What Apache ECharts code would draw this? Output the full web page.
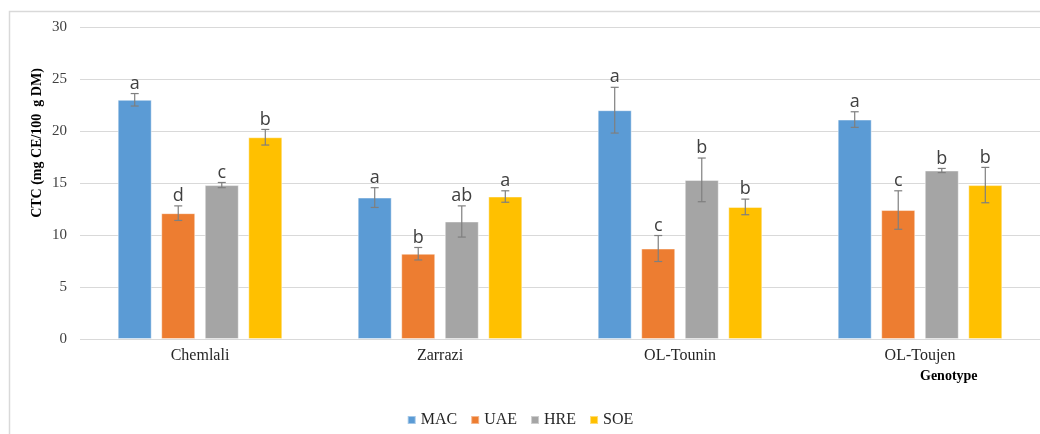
<!DOCTYPE html>
<html>
<head>
<meta charset="utf-8">
<script src="https://cdn.jsdelivr.net/npm/echarts@6/dist/echarts.min.js"></script>
<style>
  html, body { margin: 0; padding: 0; background: #fff; }
  #chart { width: 1040px; height: 434px; }
</style>
</head>
<body>
<div id="chart"></div>
<script>
// Genotypes on the x axis
const categories = ['Chemlali', 'Zarrazi', 'OL-Tounin', 'OL-Toujen'];
// Extraction methods
const seriesNames = ['MAC', 'UAE', 'HRE', 'SOE'];
const colors = ['#5B9BD5', '#ED7D31', '#A5A5A5', '#FFC000'];

// CTC means (mg CE/100 g DM)
const macValues = [23.0, 13.6, 22.0, 21.1];
const uaeValues = [12.1, 8.2, 8.7, 12.4];
const hreValues = [14.8, 11.3, 15.3, 16.2];
const soeValues = [19.4, 13.7, 12.7, 14.8];

// Standard deviations
const macErrors = [0.6, 0.95, 2.2, 0.75];
const uaeErrors = [0.7, 0.6, 1.25, 1.85];
const hreErrors = [0.25, 1.5, 2.1, 0.2];
const soeErrors = [0.75, 0.55, 0.75, 1.7];

// Significance letters
const macLetters = ['a', 'a', 'a', 'a'];
const uaeLetters = ['d', 'b', 'c', 'c'];
const hreLetters = ['c', 'ab', 'b', 'b'];
const soeLetters = ['b', 'a', 'b', 'b'];

// Y axis ticks
const yTicks = [0, 5, 10, 15, 20, 25, 30];

const allValues = [macValues, uaeValues, hreValues, soeValues];
const allErrors = [macErrors, uaeErrors, hreErrors, soeErrors];
const allLetters = [macLetters, uaeLetters, hreLetters, soeLetters];

const BAR_WIDTH_RATIO = 0.1417; // bar width as a share of the category band
const BAR_GAP_RATIO = 0.28;     // gap between bars as a share of bar width
const serif = '"Liberation Serif", "Times New Roman", serif';

const chart = echarts.init(document.getElementById('chart'));

const series = [];
seriesNames.forEach((name, i) => {
  series.push({
    name: name,
    type: 'bar',
    data: allValues[i],
    barWidth: (BAR_WIDTH_RATIO * 100) + '%',
    barGap: (BAR_GAP_RATIO * 100) + '%',
    itemStyle: { color: colors[i], borderColor: 'rgba(255,255,255,0.45)', borderWidth: 1 },
    emphasis: { disabled: true },
    z: 2
  });
});

// Error bars and letters drawn on top of each bar
seriesNames.forEach((name, i) => {
  series.push({
    name: name + ' error',
    type: 'custom',
    z: 5,
    silent: true,
    data: categories.map((c, k) => [k, allValues[i][k], allErrors[i][k]]),
    renderItem: function (params, api) {
      const k = api.value(0);
      const v = api.value(1);
      const e = api.value(2);
      const letter = allLetters[i][k];
      const band = api.size([1, 0])[0];
      const bw = band * BAR_WIDTH_RATIO;
      const gap = bw * BAR_GAP_RATIO;
      const total = 4 * bw + 3 * gap;
      const center = api.coord([k, v]);
      const x = center[0] - total / 2 + i * (bw + gap) + bw / 2;
      const yHi = api.coord([k, v + e])[1];
      const yLo = api.coord([k, v - e])[1];
      const cap = 4;
      const style = { stroke: '#7f7f7f', lineWidth: 1.2 };
      return {
        type: 'group',
        children: [
          { type: 'line', shape: { x1: x, y1: yHi, x2: x, y2: yLo }, style: style },
          { type: 'line', shape: { x1: x - cap, y1: yHi, x2: x + cap, y2: yHi }, style: style },
          { type: 'line', shape: { x1: x - cap, y1: yLo, x2: x + cap, y2: yLo }, style: style },
          {
            type: 'text',
            style: {
              text: letter,
              x: x,
              y: yHi - 1,
              align: 'center',
              verticalAlign: 'bottom',
              font: '18px "Open Sans", "Liberation Sans", sans-serif',
              fill: '#404040'
            }
          }
        ]
      };
    }
  });
});

chart.setOption({
  animation: false,
  backgroundColor: '#fff',
  color: colors,
  grid: { left: 80, right: 0, top: 27, bottom: 95 },
  legend: {
    data: seriesNames,
    bottom: 1,
    left: 'center',
    itemWidth: 8,
    itemHeight: 8,
    itemGap: 13,
    icon: 'rect',
    textStyle: { fontFamily: serif, fontSize: 16, color: '#262626' }
  },
  xAxis: {
    type: 'category',
    data: categories,
    axisLine: { show: false },
    axisTick: { show: false },
    axisLabel: { fontFamily: serif, fontSize: 16, color: '#262626', margin: 9 }
  },
  yAxis: {
    type: 'value',
    min: yTicks[0],
    max: yTicks[yTicks.length - 1],
    interval: yTicks[1] - yTicks[0],
    axisLine: { show: false },
    axisTick: { show: false },
    axisLabel: { fontFamily: serif, fontSize: 15, color: '#404040', margin: 13 },
    splitLine: { lineStyle: { color: '#d9d9d9', width: 1 } }
  },
  graphic: [
    {
      type: 'rect',
      shape: { x: 9.5, y: 11.5, width: 1040, height: 430 },
      style: { fill: 'none', stroke: '#d9d9d9', lineWidth: 1.5 },
      silent: true,
      z: -1
    },
    {
      type: 'text',
      x: 37,
      y: 143,
      rotation: Math.PI / 2,
      style: {
        text: 'CTC (mg CE/100  g DM)',
        font: 'bold 14px ' + serif,
        fill: '#000',
        align: 'center',
        verticalAlign: 'middle'
      }
    },
    {
      type: 'text',
      x: 920,
      y: 376,
      style: {
        text: 'Genotype',
        font: 'bold 14px ' + serif,
        fill: '#000',
        align: 'left',
        verticalAlign: 'middle'
      }
    }
  ],
  series: series
});
</script>
</body>
</html>
